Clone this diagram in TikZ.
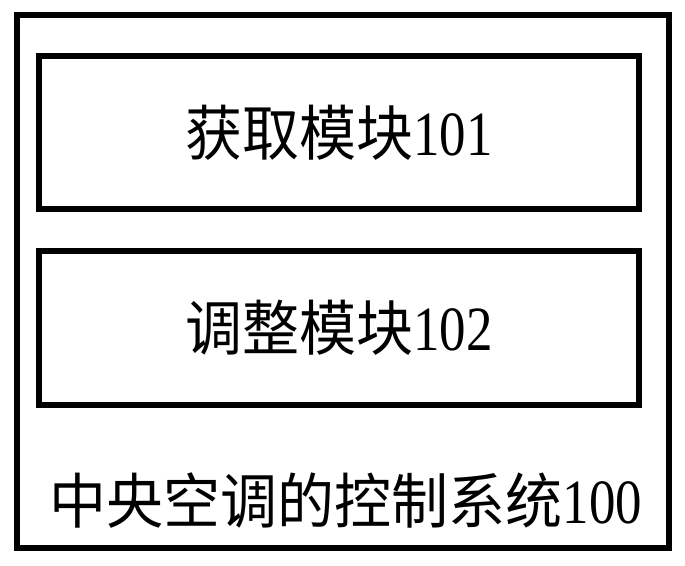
\documentclass[tikz,border=0pt]{standalone}
\usepackage{fontspec}
\newfontfamily\cjkfont{Noto Sans CJK SC}
\newfontfamily\numfont{Liberation Serif}
\newcommand{\boxlabel}[2]{\scalebox{0.95}[1]{\fontsize{60}{66}\selectfont\cjkfont #1}\scalebox{0.84}[1]{\fontsize{63}{66}\selectfont\numfont #2}}
\begin{document}
\begin{tikzpicture}[x=1pt,y=1pt,
  box/.style={draw=black, line width=6pt, inner sep=0pt, outer sep=0pt}]
\useasboundingbox (0,0) rectangle (685,565);
\node[box, minimum width=652pt, minimum height=533pt] (outer) at (343,283.5) {};
\node[box, minimum width=600pt, minimum height=153pt] (m1) at (339,432.5) {\boxlabel{获取模块}{101}};
\node[box, minimum width=600pt, minimum height=154pt] (m2) at (339,237) {\boxlabel{调整模块}{102}};
\node[inner sep=0pt] (title) at (346,64) {\boxlabel{中央空调的控制系统}{100}};
\end{tikzpicture}
\end{document}
